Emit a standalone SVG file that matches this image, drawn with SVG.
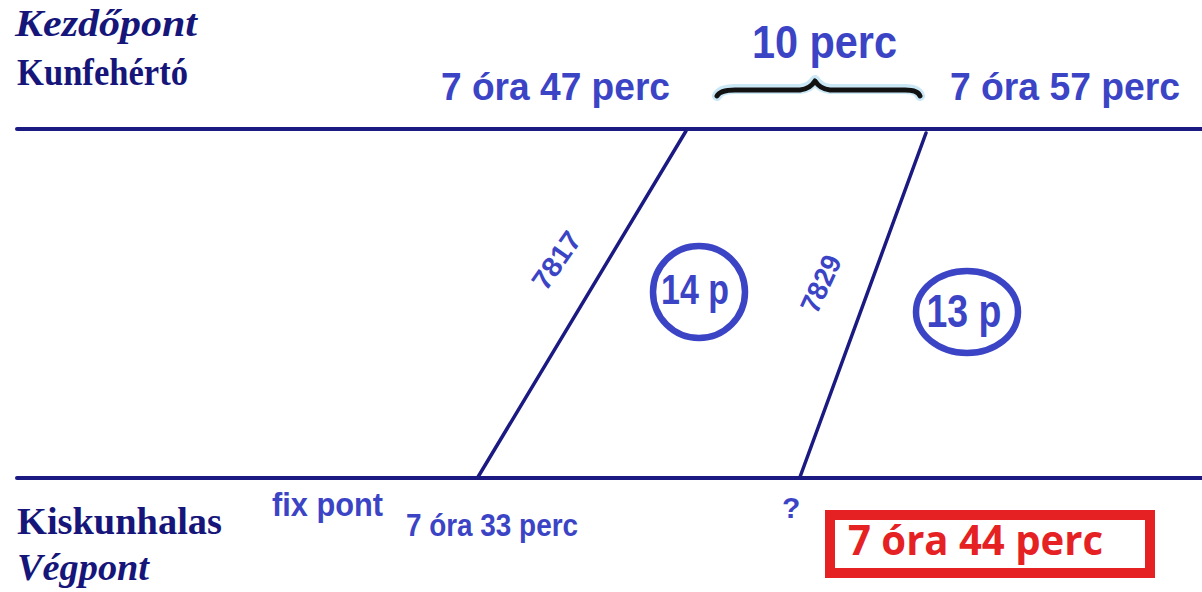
<svg xmlns="http://www.w3.org/2000/svg" width="1202" height="592" viewBox="0 0 1202 592">
<style>
.line{stroke:#1a1a82;fill:none;stroke-linecap:round}
.lbl{font-family:"Liberation Serif","Times New Roman",serif;font-weight:bold;fill:#16167a}
.blue{font-family:"Liberation Sans",Arial,sans-serif;font-weight:bold;fill:#3c44c6}
.circ{fill:none;stroke:#3c44c6;stroke-width:6.5}
.brace{fill:none;stroke-linecap:round;stroke-linejoin:round}
</style>
<rect width="1202" height="592" fill="#fff"/>
<g id="connectors">
<line class="line" x1="17" y1="129" x2="1202" y2="129" stroke-width="4"/>
<line class="line" x1="17" y1="478" x2="1202" y2="478" stroke-width="4"/>
<line class="line" x1="686" y1="131" x2="478" y2="477" stroke-width="3.5"/>
<line class="line" x1="926" y1="133" x2="800" y2="477" stroke-width="3.5"/>
</g>
<g id="start">
<text class="lbl" x="15" y="36" font-size="37" font-style="italic" textLength="182" lengthAdjust="spacingAndGlyphs">Kezdőpont</text>
<text class="lbl" x="17" y="85" font-size="37" textLength="171" lengthAdjust="spacingAndGlyphs">Kunfehértó</text>
</g>
<g id="end">
<text class="lbl" x="17" y="534" font-size="38" textLength="205" lengthAdjust="spacingAndGlyphs">Kiskunhalas</text>
<text class="lbl" x="17" y="580" font-size="38" font-style="italic" textLength="132" lengthAdjust="spacingAndGlyphs">Végpont</text>
</g>
<g id="time-747">
<text class="blue" x="441" y="100" font-size="39" textLength="229" lengthAdjust="spacingAndGlyphs">7 óra 47 perc</text>
</g>
<g id="time-757">
<text class="blue" x="950" y="100" font-size="39" textLength="230" lengthAdjust="spacingAndGlyphs">7 óra 57 perc</text>
</g>
<g id="interval">
<text class="blue" x="752" y="58" font-size="46" textLength="145" lengthAdjust="spacingAndGlyphs">10 perc</text>
<path class="brace" d="M717,96 Q720,89 735,89 L800,89 Q810,88 815,80 Q820,88 830,89 L905,89 Q918,89 920,96" stroke="#9fd3ee" stroke-width="10" opacity="0.55"/>
<path class="brace" d="M717,96 Q720,90 735,90 L800,90 Q810,89 815,81 Q820,89 830,90 L905,90 Q918,90 920,96" stroke="#121212" stroke-width="5"/>
</g>
<g id="train-7817">
<text class="blue" x="0" y="0" font-size="28" font-weight="normal" textLength="64" lengthAdjust="spacingAndGlyphs" transform="translate(546,292) rotate(-55)">7817</text>
</g>
<g id="train-7829">
<text class="blue" x="0" y="0" font-size="28" font-weight="normal" textLength="60" lengthAdjust="spacingAndGlyphs" transform="translate(817,315) rotate(-65)">7829</text>
</g>
<g id="dur-14">
<ellipse class="circ" cx="699" cy="292" rx="46" ry="46"/>
<text class="blue" x="695" y="304" font-size="43" text-anchor="middle" textLength="68" lengthAdjust="spacingAndGlyphs">14 p</text>
</g>
<g id="dur-13">
<ellipse class="circ" cx="967" cy="312" rx="51" ry="41"/>
<text class="blue" x="964" y="327" font-size="46" text-anchor="middle" textLength="75" lengthAdjust="spacingAndGlyphs">13 p</text>
</g>
<g id="fix">
<text class="blue" x="272" y="516" font-size="33" textLength="111" lengthAdjust="spacingAndGlyphs">fix pont</text>
<text class="blue" x="406" y="536" font-size="31" font-weight="normal" textLength="172" lengthAdjust="spacingAndGlyphs">7 óra 33 perc</text>
</g>
<g id="unknown">
<text class="blue" x="782" y="518" font-size="30">?</text>
</g>
<g id="answer">
<rect x="830" y="515" width="320" height="58" fill="#fff" stroke="#e52124" stroke-width="10"/>
<text x="848" y="555" font-family="'Open Sans','Liberation Sans',sans-serif" font-weight="bold" font-size="41" fill="#e52124" textLength="255" lengthAdjust="spacingAndGlyphs">7 óra 44 perc</text>
</g>
</svg>
